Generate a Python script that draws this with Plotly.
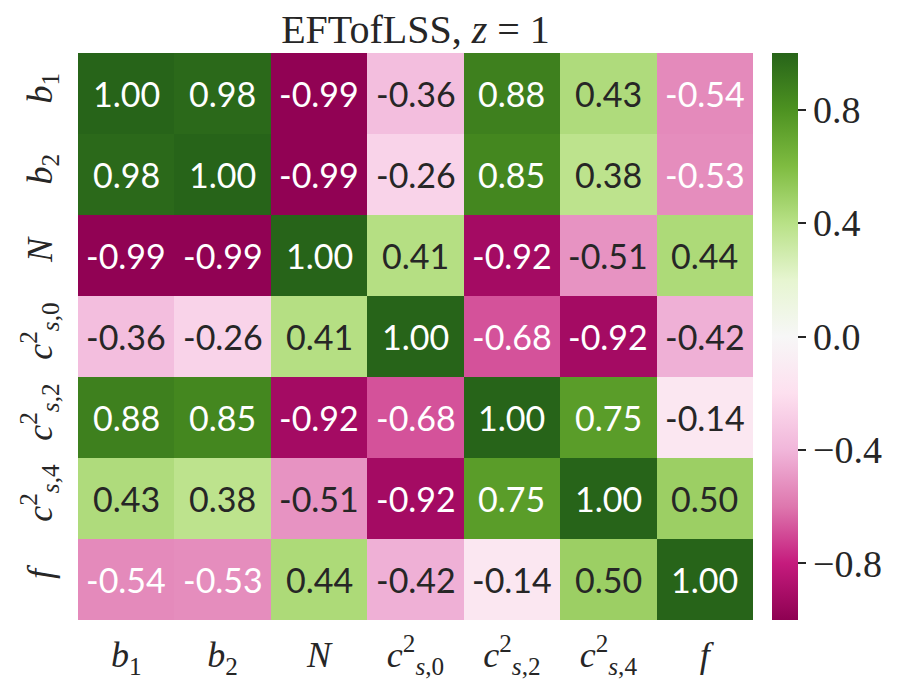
import plotly.graph_objects as go

labels = ["<i>b</i><sub>1</sub>", "<i>b</i><sub>2</sub>", "<i>N</i>",
          "<i>c</i><sup>2</sup><sub><i>s</i>,0</sub>",
          "<i>c</i><sup>2</sup><sub><i>s</i>,2</sub>",
          "<i>c</i><sup>2</sup><sub><i>s</i>,4</sub>", "<i>f</i>"]

corr = [
    [1.00, 0.98, -0.99, -0.36, 0.88, 0.43, -0.54],
    [0.98, 1.00, -0.99, -0.26, 0.85, 0.38, -0.53],
    [-0.99, -0.99, 1.00, 0.41, -0.92, -0.51, 0.44],
    [-0.36, -0.26, 0.41, 1.00, -0.68, -0.92, -0.42],
    [0.88, 0.85, -0.92, -0.68, 1.00, 0.75, -0.14],
    [0.43, 0.38, -0.51, -0.92, 0.75, 1.00, 0.50],
    [-0.54, -0.53, 0.44, -0.42, -0.14, 0.50, 1.00],
]

cbar_vals = [0.8, 0.4, 0.0, -0.4, -0.8]
cbar_text = ["0.8", "0.4", "0.0", "\u22120.4", "\u22120.8"]

piyg = ["#8e0152", "#c51b7d", "#de77ae", "#f1b6da", "#fde0ef", "#f7f7f7",
        "#e6f5d0", "#b8e186", "#7fbc41", "#4d9221", "#276419"]


def hex2rgb(h):
    return [int(h[i:i + 2], 16) / 255 for i in (1, 3, 5)]


def cmap(v):
    t = (v + 1) / 2 * (len(piyg) - 1)
    i = min(int(t), len(piyg) - 2)
    f = t - i
    a, b = hex2rgb(piyg[i]), hex2rgb(piyg[i + 1])
    return [a[k] + (b[k] - a[k]) * f for k in range(3)]


def lum(rgb):
    lin = [c / 12.92 if c <= 0.03928 else ((c + 0.055) / 1.055) ** 2.4 for c in rgb]
    return 0.2126 * lin[0] + 0.7152 * lin[1] + 0.0722 * lin[2]


serif = "Liberation Serif, serif"
sans = "Lato, sans-serif"

fig = go.Figure(go.Heatmap(
    z=corr, x=list(range(len(labels))), y=list(range(len(labels))),
    colorscale="PiYG", zmin=-1, zmax=1,
    colorbar=dict(
        x=1.013, xanchor="left", thickness=26, len=1.0, ypad=0, y=0.5, yanchor="middle",
        outlinewidth=0, tickvals=cbar_vals, ticktext=cbar_text,
        ticks="outside", ticklen=8, tickwidth=2, tickcolor="#262626",
        tickfont=dict(family=serif, size=38, color="#262626"),
    ),
))

annotations = []
for r, row in enumerate(corr):
    for c, v in enumerate(row):
        col = "#262626" if lum(cmap(v)) > 0.408 else "white"
        annotations.append(dict(x=c, y=r, text=f"{v:.2f}", showarrow=False,
                                font=dict(family=sans, size=34, color=col)))

fig.update_layout(
    width=906, height=700,
    margin=dict(l=78, r=153, t=53, b=80),
    paper_bgcolor="white", plot_bgcolor="white",
    title=dict(text="EFTofLSS, <i>z</i> = 1", x=(78 + 753) / 2 / 906, xanchor="center",
               y=0.958, yanchor="middle",
               font=dict(family=serif, size=40, color="#262626")),
    annotations=annotations,
    xaxis=dict(tickvals=list(range(len(labels))), ticktext=labels, ticks="",
               showgrid=False, zeroline=False, showline=False, ticklabelstandoff=10,
               tickfont=dict(family=serif, size=36, color="#262626")),
    yaxis=dict(tickvals=list(range(len(labels))), ticktext=labels, ticks="",
               autorange="reversed", tickangle=-90, ticklabelstandoff=18,
               showgrid=False, zeroline=False, showline=False,
               tickfont=dict(family=serif, size=36, color="#262626")),
)

fig.write_html("out.html")
